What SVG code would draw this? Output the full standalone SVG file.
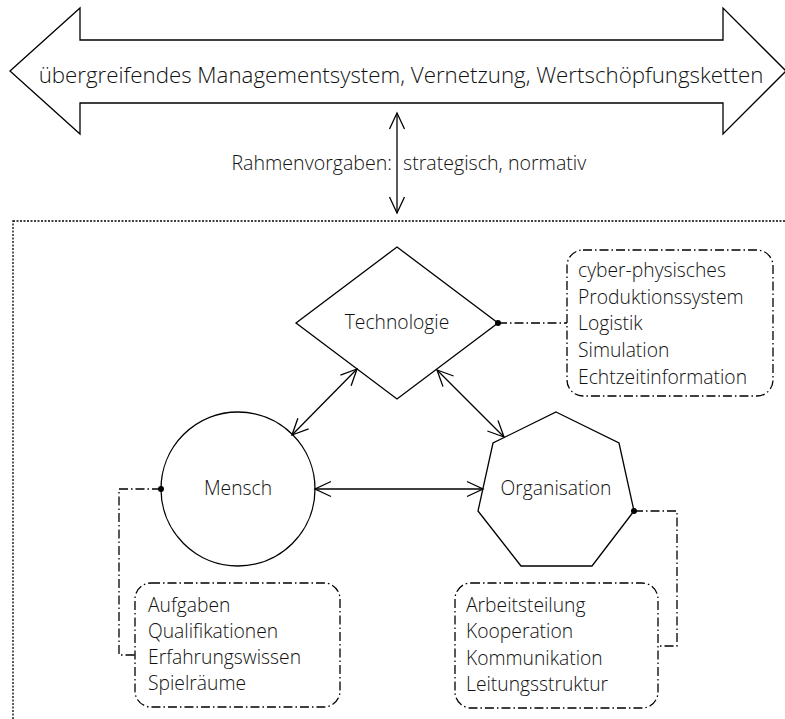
<svg xmlns="http://www.w3.org/2000/svg" width="785" height="719" viewBox="0 0 785 719">
<style>
text{font-family:"Open Sans","Noto Sans",sans-serif;font-weight:300;fill:#111}
.shape{fill:#fff;stroke:#000;stroke-width:1.3}
.dd{fill:none;stroke:#000;stroke-width:1.3;stroke-dasharray:9 3 1.5 3}
.con{fill:none;stroke:#000;stroke-width:1.3}
.t17{font-size:19.3px}
</style>
<defs>
<marker id="arr" markerUnits="userSpaceOnUse" orient="auto-start-reverse" overflow="visible" markerWidth="20" markerHeight="20" refX="0" refY="0">
<path d="M-16,-7.5 L0,0 L-16,7.5" fill="none" stroke="#000" stroke-width="1.3"/>
</marker>
</defs>
<rect width="785" height="719" fill="#fff"/>
<g id="banner">
<polygon class="shape" points="10,71 80,8 80,40 723,40 723,8 786,71 723,134 723,103 80,103 80,134"/>
<text x="401" y="83" text-anchor="middle" font-size="22.3">übergreifendes Managementsystem, Vernetzung, Wertschöpfungsketten</text>
</g>
<g id="frame">
<rect x="13" y="221" width="800" height="520" fill="none" stroke="#000" stroke-width="1.3" stroke-dasharray="2 1.5"/>
</g>
<g id="label">
<text x="392" y="170" text-anchor="end" font-size="19.6">Rahmenvorgaben:</text>
<text x="403" y="170" font-size="19.6">strategisch, normativ</text>
</g>
<g id="technologie">
<polygon class="shape" points="397,247 498,323 397,399 296,323"/>
<text x="397" y="329" text-anchor="middle" class="t17">Technologie</text>
</g>
<g id="mensch">
<circle class="shape" cx="238" cy="489" r="77"/>
<text x="238" y="495" text-anchor="middle" class="t17">Mensch</text>
</g>
<g id="organisation">
<polygon class="shape" points="556,412 619,443 634,511 592,566 521,566 478,511 493,443"/>
<text x="556" y="495" text-anchor="middle" class="t17">Organisation</text>
</g>
<g id="box-technologie">
<rect class="dd" x="567" y="250" width="206" height="146" rx="16"/>
<text class="t17" x="578" y="277">cyber-physisches</text>
<text class="t17" x="578" y="304">Produktionssystem</text>
<text class="t17" x="578" y="330">Logistik</text>
<text class="t17" x="578" y="357">Simulation</text>
<text class="t17" x="578" y="384">Echtzeitinformation</text>
</g>
<g id="box-mensch">
<rect class="dd" x="135" y="583" width="205" height="124" rx="16"/>
<text class="t17" x="148" y="612">Aufgaben</text>
<text class="t17" x="148" y="638">Qualifikationen</text>
<text class="t17" x="148" y="664">Erfahrungswissen</text>
<text class="t17" x="148" y="690">Spielräume</text>
</g>
<g id="box-organisation">
<rect class="dd" x="455" y="583" width="203" height="125" rx="16"/>
<text class="t17" x="466" y="612">Arbeitsteilung</text>
<text class="t17" x="466" y="638">Kooperation</text>
<text class="t17" x="466" y="665">Kommunikation</text>
<text class="t17" x="466" y="691">Leitungsstruktur</text>
</g>
<g id="connectors">
<line class="con" x1="397" y1="113" x2="397" y2="213" marker-start="url(#arr)" marker-end="url(#arr)"/>
<line class="con" x1="357" y1="369" x2="292" y2="435" marker-start="url(#arr)" marker-end="url(#arr)"/>
<line class="con" x1="437" y1="370" x2="504" y2="437" marker-start="url(#arr)" marker-end="url(#arr)"/>
<line class="con" x1="315" y1="489" x2="483" y2="489" marker-start="url(#arr)" marker-end="url(#arr)"/>
<path class="dd" d="M498,323 H567"/>
<path class="dd" d="M161,489 H119 V655 H135"/>
<path class="dd" d="M634,511 H677 V646 H658"/>
<circle cx="498" cy="323" r="3" fill="#000"/>
<circle cx="161" cy="489" r="3" fill="#000"/>
<circle cx="634" cy="511" r="3" fill="#000"/>
</g>
</svg>
